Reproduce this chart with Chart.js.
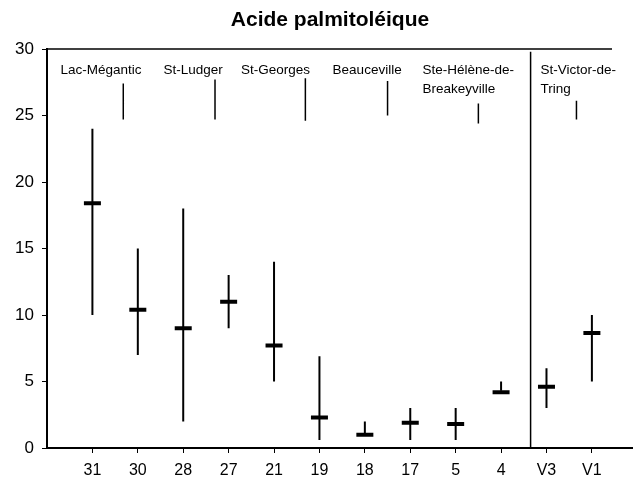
<!DOCTYPE html>
<html>
<head>
<meta charset="utf-8">
<script src="https://cdn.jsdelivr.net/npm/chart.js"></script>
<style>
  body { margin: 0; background: #fff; }
  #wrap { width: 633px; height: 492px; }
</style>
</head>
<body>
<div id="wrap"><canvas id="myChart"></canvas></div>
<script>
//data
var labels = ['31', '30', '28', '27', '21', '19', '18', '17', '5', '4', 'V3', 'V1'];
var minVals = [10, 7, 2, 9, 5, 0.6, 0.9, 0.6, 0.6, 4.3, 3, 5];
var maxVals = [24, 15, 18, 13, 14, 6.9, 2, 3, 3, 5, 6, 10];
var means = [18.4, 10.4, 9.0, 11.0, 7.7, 2.3, 1.0, 1.9, 1.8, 4.2, 4.6, 8.65];

//site groups at the top of the plot
var groupNames = [['Lac-Mégantic'], ['St-Ludger'], ['St-Georges'], ['Beauceville'], ['Ste-Hélène-de-', 'Breakeyville'], ['St-Victor-de-', 'Tring']];
var groupX = [1.19, 3.22, 5.03, 7.05, 8.27, 10.87];
var groupAlign = ['center', 'center', 'center', 'center', 'left', 'left'];
var sepX = [1.68, 3.70, 5.69, 7.50, 9.50, 11.66];
var sepTop = [27.4, 27.7, 27.8, 27.6, 25.9, 26.1];
var sepBottom = [24.7, 24.7, 24.6, 25.0, 24.4, 24.7];
var dividerX = 10.65;
var dividerTop = 29.8;

var yTicks = [0, 5, 10, 15, 20, 25, 30];

//build the point lists
var rangePts = [];
var meanPts = [];
labels.forEach(function(lab, i){
  rangePts.push({x: i + 1, y: minVals[i]});
  rangePts.push({x: i + 1, y: maxVals[i]});
  rangePts.push({x: i + 1, y: null});
  meanPts.push({x: i + 1, y: means[i]});
});

var sepPts = [];
sepX.forEach(function(x, i){
  sepPts.push({x: x, y: sepBottom[i]});
  sepPts.push({x: x, y: sepTop[i]});
  sepPts.push({x: x, y: null});
});
sepPts.push({x: dividerX, y: 0});
sepPts.push({x: dividerX, y: dividerTop});

var fontMain = "'Liberation Sans', Arial, sans-serif";

var decorPlugin = {
  id: 'decor',
  afterDraw: function(chart){
    var c = chart.ctx;
    var xs = chart.scales.x;
    var ys = chart.scales.y;
    var area = chart.chartArea;
    c.save();
    //title
    c.fillStyle = '#000';
    c.font = "bold 21px " + fontMain;
    c.textAlign = 'center';
    c.textBaseline = 'middle';
    c.fillText('Acide palmitoléique', 330, 20);
    //top frame line
    c.strokeStyle = '#000';
    c.lineWidth = 1.5;
    c.beginPath();
    c.moveTo(area.left, area.top);
    c.lineTo(612, area.top);
    c.stroke();
    //bottom axis runs on to the edge
    c.lineWidth = 2;
    c.beginPath();
    c.moveTo(area.right, area.bottom);
    c.lineTo(chart.width, area.bottom);
    c.stroke();
    //group names
    c.font = "13.5px 'Liberation Sans Narrow', " + fontMain;
    c.textBaseline = 'middle';
    groupNames.forEach(function(lines, i){
      c.textAlign = groupAlign[i];
      lines.forEach(function(t, k){
        c.fillText(t, xs.getPixelForValue(groupX[i]), ys.getPixelForValue(28.4) + k * 19);
      });
    });
    c.restore();
  }
};

var ctx = document.getElementById('myChart');
var myChart = new Chart(ctx, {
  type: 'scatter',
  data: {
    datasets: [
      {
        data: rangePts,
        showLine: true,
        spanGaps: false,
        borderColor: '#000',
        borderWidth: 2,
        pointRadius: 0
      },
      {
        data: meanPts,
        pointStyle: 'line',
        pointRadius: 8.5,
        pointBorderWidth: 4,
        borderColor: '#000',
        backgroundColor: '#000'
      },
      {
        data: sepPts,
        showLine: true,
        spanGaps: false,
        borderColor: '#000',
        borderWidth: 1.5,
        pointRadius: 0
      }
    ]
  },
  options: {
    responsive: true,
    maintainAspectRatio: false,
    animation: false,
    layout: {
      padding: {top: 49, right: 0, bottom: 0, left: 0}
    },
    plugins: {
      legend: {display: false},
      title: {display: false},
      tooltip: {enabled: false}
    },
    scales: {
      x: {
        type: 'linear',
        min: 0,
        max: 12.63,
        afterBuildTicks: function(axis){
          axis.ticks = labels.map(function(l, i){ return {value: i + 1}; });
        },
        afterFit: function(axis){ axis.height = 44; },
        border: {display: true, color: '#000', width: 2},
        grid: {display: true, drawOnChartArea: false, color: '#000', tickLength: 5, tickWidth: 1},
        ticks: {
          color: '#000',
          font: {family: fontMain, size: 16},
          padding: 8,
          maxRotation: 0,
          autoSkip: false,
          callback: function(v){ return labels[v - 1]; }
        }
      },
      y: {
        min: 0,
        max: 30,
        afterBuildTicks: function(axis){
          axis.ticks = yTicks.map(function(v){ return {value: v}; });
        },
        afterFit: function(axis){ axis.width = 47; },
        border: {display: true, color: '#000', width: 2},
        grid: {display: true, drawOnChartArea: false, color: '#000', tickLength: 5, tickWidth: 1},
        ticks: {
          color: '#000',
          font: {family: fontMain, size: 17},
          padding: 8
        }
      }
    }
  },
  plugins: [decorPlugin]
});
</script>
</body>
</html>
